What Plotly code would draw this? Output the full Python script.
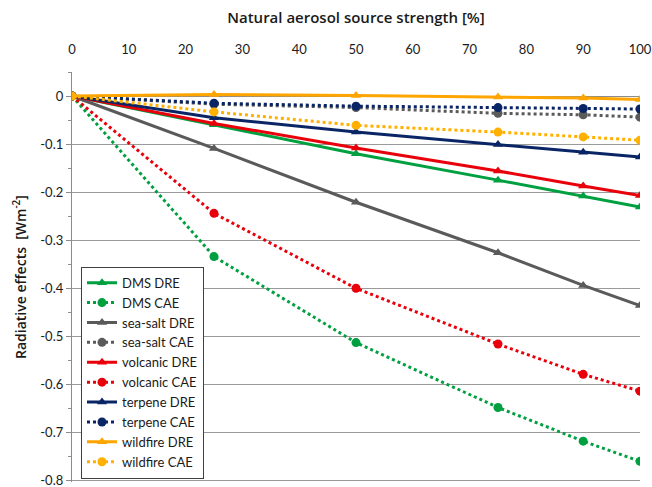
import plotly.graph_objects as go

x_strength = [0, 25, 50, 75, 90, 100]

dms_dre = [0, -0.060, -0.120, -0.175, -0.208, -0.231]
dms_cae = [0, -0.334, -0.513, -0.648, -0.718, -0.760]
seasalt_dre = [0, -0.109, -0.221, -0.326, -0.394, -0.436]
seasalt_cae = [0, -0.017, -0.024, -0.036, -0.039, -0.044]
volcanic_dre = [0, -0.057, -0.108, -0.156, -0.187, -0.207]
volcanic_cae = [0, -0.244, -0.400, -0.516, -0.579, -0.614]
terpene_dre = [0, -0.045, -0.075, -0.101, -0.117, -0.127]
terpene_cae = [0, -0.015, -0.021, -0.024, -0.026, -0.027]
wildfire_dre = [0, 0.003, 0.001, -0.002, -0.004, -0.007]
wildfire_cae = [0, -0.033, -0.061, -0.075, -0.085, -0.092]

series = [
    ("DMS DRE", dms_dre, "#00A040", "solid"),
    ("DMS CAE", dms_cae, "#00A040", "dot"),
    ("sea-salt DRE", seasalt_dre, "#5A5A5A", "solid"),
    ("sea-salt CAE", seasalt_cae, "#5A5A5A", "dot"),
    ("volcanic DRE", volcanic_dre, "#E8000B", "solid"),
    ("volcanic CAE", volcanic_cae, "#E8000B", "dot"),
    ("terpene DRE", terpene_dre, "#0A2565", "solid"),
    ("terpene CAE", terpene_cae, "#0A2565", "dot"),
    ("wildfire DRE", wildfire_dre, "#FFA500", "solid"),
    ("wildfire CAE", wildfire_cae, "#FFB000", "dot"),
]

y_tickvals = [0, -0.1, -0.2, -0.3, -0.4, -0.5, -0.6, -0.7, -0.8]
y_ticktext = ["0", "-0.1", "-0.2", "-0.3", "-0.4", "-0.5", "-0.6", "-0.7", "-0.8"]

FONT = "Lato, 'Open Sans', sans-serif"
TFONT = "'Open Sans', sans-serif"
YMIN, YMAX = -0.803, 0.05
W, H = 652, 487
ML, MR, MT, MB = 72, 12, 72, 5
PW = W - ML - MR

fig = go.Figure()
for name, vals, color, dash in series:
    is_dre = dash == "solid"
    fig.add_trace(go.Scatter(
        x=x_strength, y=vals, name=name, mode="lines+markers",
        line=dict(color=color, width=3, dash=dash),
        marker=dict(symbol="triangle-up" if is_dre else "circle",
                    size=9, color=color),
    ))

fig.update_layout(
    width=W, height=H,
    margin=dict(l=ML, r=MR, t=MT, b=MB, autoexpand=False),
    paper_bgcolor="white", plot_bgcolor="white",
    font=dict(family=FONT, size=13, color="#1a1a1a"),
    title=dict(text="Natural aerosol source strength [%]",
               font=dict(family=TFONT, size=15, color="#1a1a1a", weight=600),
               x=0.5, xref="paper", xanchor="center",
               y=1 - 18 / H, yref="container", yanchor="middle"),
    xaxis=dict(range=[0, 100], dtick=10, side="top", showgrid=False,
               zeroline=False, showline=False, ticks="",
               automargin=False, ticklabelstandoff=14, ticklabeloverflow="allow",
               tickfont=dict(family=FONT, size=13, color="#1a1a1a")),
    xaxis2=dict(range=[0, 100], dtick=10, overlaying="x", anchor="free",
                position=(0 - YMIN) / (YMAX - YMIN), side="top",
                showline=True, linecolor="#8c8c8c", linewidth=1.3,
                ticks="outside", ticklen=5, tickcolor="#8c8c8c",
                showticklabels=False, showgrid=False, zeroline=False,
                automargin=False),
    yaxis=dict(range=[YMIN, YMAX], tickvals=y_tickvals, ticktext=y_ticktext,
               showgrid=True, gridcolor="#9a9a9a", gridwidth=1.3,
               zeroline=True, zerolinecolor="#8c8c8c", zerolinewidth=1.3,
               showline=True, linecolor="#8c8c8c", linewidth=1.3,
               ticks="outside", ticklen=5, tickcolor="#8c8c8c",
               minor=dict(ticks="outside", ticklen=3, tickcolor="#8c8c8c", dtick=0.05, showgrid=False),
               tickfont=dict(family=FONT, size=13, color="#1a1a1a"),
               ticklabeloverflow="allow", automargin=False),
    legend=dict(x=9 / PW, y=0.008, xanchor="left", yanchor="bottom",
                bgcolor="white", bordercolor="#404040", borderwidth=1,
                font=dict(family=FONT, size=13, color="#1a1a1a"),
                itemwidth=30, tracegroupgap=0),
    showlegend=True,
)

fig.add_annotation(
    text="Radiative effects  [Wm<sup>-2</sup>]",
    xref="paper", yref="paper",
    x=(20 - ML) / PW, y=0.5,
    xanchor="center", yanchor="middle", textangle=-90, showarrow=False,
    font=dict(family=TFONT, size=14, color="#1a1a1a", weight=600),
)

fig.write_html("out.html", config={"displayModeBar": False},
               post_script="document.body.style.margin='0';document.body.style.overflow='hidden';")
